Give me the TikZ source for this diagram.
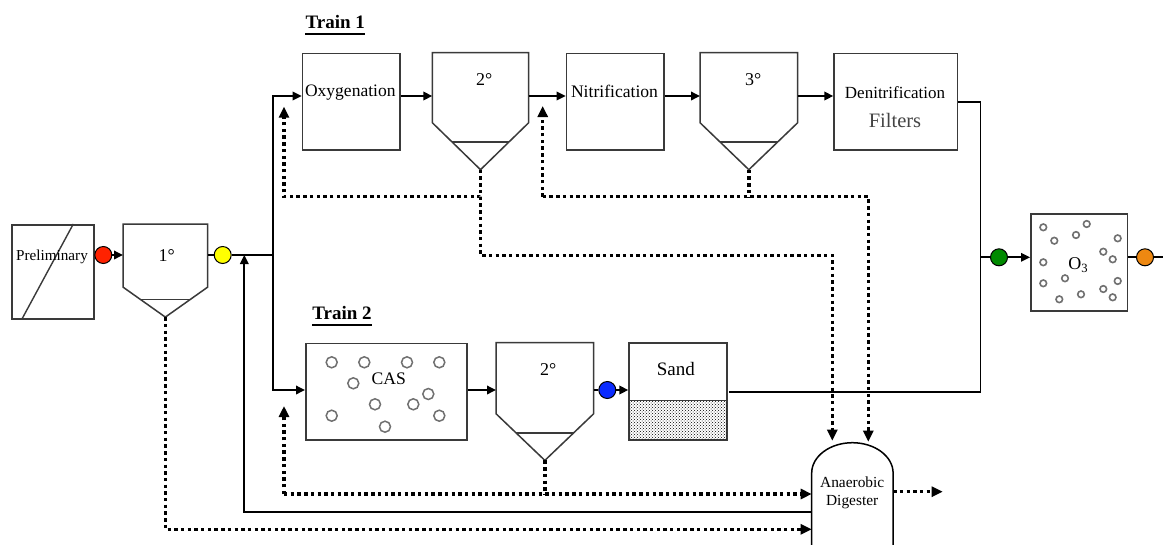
\documentclass[tikz,border=0pt]{standalone}
\usepackage{fontspec}
\setmainfont{Liberation Serif}
\usetikzlibrary{arrows.meta,patterns,calc}
\definecolor{boxgray}{HTML}{3A3A3A}
\definecolor{cgray}{HTML}{707070}
\definecolor{cred}{HTML}{FF2200}
\definecolor{cyel}{HTML}{FFFF00}
\definecolor{cgrn}{HTML}{008A00}
\definecolor{cblu}{HTML}{0A2BFF}
\definecolor{corg}{HTML}{EE8811}
\definecolor{ftgray}{HTML}{444444}
\tikzset{
  unit/.style={draw=boxgray, line width=1.5pt, inner sep=0pt, anchor=north west},
  body/.style={draw=none, inner sep=0pt, anchor=north west},
  vessel/.style={draw=boxgray, line width=1.5pt, line join=miter},
  flow/.style={draw=black, line width=1.8pt},
  arr/.style={-{Triangle[length=9pt,width=8.5pt]}},
  recyc/.style={draw=black, line width=3.4pt, dash pattern=on 3.4pt off 3.3pt},
  darr/.style={-{Triangle[length=11pt,width=10pt]}},
  probe/.style={circle, draw=black, line width=1pt, minimum size=17pt, inner sep=0pt},
  lbl/.style={inner sep=0pt, text=black},
  bub/.style={draw=cgray, line width=1.5pt},
  sbub/.style={draw=cgray, line width=1.6pt},
}
\newcommand\settler[5]{%
  \node[body, minimum width=#3pt, minimum height=#4pt] (#1) at (#2) {};
  \draw[vessel] (#1.south west) -- (#1.north west) -- (#1.north east) -- (#1.south east) -- ($(#1.south)+(0,#5)$) coordinate (#1tip) -- cycle;
  \draw[vessel] ($(#1.south west)!0.41!(#1tip)$) -- ($(#1.south east)!0.41!(#1tip)$);
}
\begin{document}
\begin{tikzpicture}[x=1pt,y=-1pt]
\useasboundingbox (0,0) rectangle (1163,544);
\fill[white] (0,0) rectangle (1163,544);

% train labels
\node[lbl, anchor=base, font=\fontsize{19}{22}\selectfont\bfseries] (t1) at (335.3,28.3) {Train 1};
\draw[line width=1.4pt] ($(t1.base west)+(0,5.5)$) -- ($(t1.base east)+(0,5.5)$);
\node[lbl, anchor=base, font=\fontsize{19}{22}\selectfont\bfseries] (t2) at (342,319.3) {Train 2};
\draw[line width=1.4pt] ($(t2.base west)+(0,5.5)$) -- ($(t2.base east)+(0,5.5)$);

% preliminary
\node[unit, minimum width=82pt, minimum height=94pt] (pre) at (11,224) {};
\draw[boxgray, line width=1.4pt] ($(pre.north west)+(62.3,0)$) -- ($(pre.south west)+(10.7,0)$);
\node[lbl, font=\fontsize{15.2}{17}\selectfont] (prelab) at (52,256.5) {Preliminary};

% primary clarifier
\node[probe, fill=cred] (pr) at (103.3,255) {};
\settler{c1}{123,224}{84.3}{62.7}{30}
\node[lbl, font=\fontsize{18}{20}\selectfont] (c1lab) at (166.7,255.8) {1°};
\node[probe, fill=cyel] (py) at (222.7,255) {};
\draw[flow,arr] (pr) -- (pr -| c1.west);
\draw[flow] (py -| c1.east) -- (py);
\coordinate (jn) at (272.7,255);
\coordinate (jt) at (272.7,96);
\coordinate (jb) at (272.7,390);
\draw[flow] (py) -- (jn);

% train 1
\node[unit, minimum width=97.3pt, minimum height=96.3pt] (oxy) at (301.7,52.7) {};
\node[lbl, font=\fontsize{17.5}{20}\selectfont] (oxylab) at (350.3,93) {Oxygenation};
\settler{c2}{432.3,52.7}{96}{69.6}{47}
\node[lbl, font=\fontsize{18}{20}\selectfont] (c2lab) at (484.3,79.5) {2°};
\node[unit, minimum width=97.6pt, minimum height=96.6pt] (nit) at (565.7,52.7) {};
\node[lbl, font=\fontsize{17.6}{20}\selectfont] (nitlab) at (614.5,91.2) {Nitrification};
\settler{c3}{700,52.7}{97.3}{69.6}{47}
\node[lbl, font=\fontsize{18}{20}\selectfont] (c3lab) at (753.3,79.5) {3°};
\node[unit, minimum width=123.4pt, minimum height=96.6pt] (den) at (833.3,52.7) {};
\node[lbl, font=\fontsize{17}{19}\selectfont] (denlab) at (895,92.5) {Denitrification};
\node[lbl, text=ftgray, font=\fontsize{20.5}{22}\selectfont] (fillab) at (895,120) {Filters};

\draw[flow,arr] (jn) |- (oxy.west |- jt);
\draw[flow,arr] (oxy.east |- jt) -- (c2.west |- jt);
\draw[flow,arr] (c2.east |- jt) -- (nit.west |- jt);
\draw[flow,arr] (nit.east |- jt) -- (c3.west |- jt);
\draw[flow,arr] (c3.east |- jt) -- (den.west |- jt);

% train 2
\node[unit, minimum width=161pt, minimum height=96.3pt] (cas) at (305,342.7) {};
\draw[flow,arr] (jn) |- (cas.west |- jb);
\foreach \bx/\by in {331.7/362.3, 364.3/362.3, 407/362.3, 439.3/362.3, 353.3/383.3, 428.3/394, 375/404.3, 413.3/404.3, 331.7/415.7, 439.3/415.7, 385/426.7}
  \draw[bub] (\bx,\by) circle[radius=5.5];
\node[lbl, font=\fontsize{17.6}{20}\selectfont] (caslab) at (388.8,378.3) {CAS};
\settler{c4}{496,342.7}{97.3}{70.6}{46.7}
\node[lbl, font=\fontsize{18}{20}\selectfont] (c4lab) at (548.3,369.5) {2°};
\node[probe, fill=cblu] (pb) at (607.3,390) {};
\node[unit, minimum width=97.7pt, minimum height=96.3pt] (sand) at (628.3,342.7) {};
\coordinate (sdiv) at (0,400.7);
\fill[pattern=crosshatch dots, pattern color=black] (sand.west |- sdiv) rectangle (sand.south east);
\draw[boxgray, line width=1.5pt] (sand.west |- sdiv) -- (sand.east |- sdiv);
\draw[boxgray, line width=1.5pt] (sand.north west) rectangle (sand.south east);
\node[lbl, font=\fontsize{19}{21}\selectfont] (sandlab) at (675.8,369.2) {Sand};
\draw[flow,arr] (cas.east |- jb) -- (c4.west |- jb);
\draw[flow] (c4.east |- pb) -- (pb);
\draw[flow,arr] (pb) -- (sand.west |- pb);

% effluent side
\coordinate (v1) at (980.5,102.3);
\coordinate (so) at (729,392.3);
\draw[flow] (den.east |- v1) -- (v1) -- (v1 |- so) -- (so);
\node[unit, minimum width=96.7pt, minimum height=96.7pt] (o3) at (1030,213.3) {};
\foreach \bx/\by in {1043.3/227.3, 1086.7/224, 1076/235, 1054.3/240.7, 1117.7/238.3, 1103.3/251.7, 1112.7/259.3, 1043.3/262.3, 1065/278.3, 1117.7/281, 1043.3/283.3, 1103.3/289, 1081/294.3, 1112.7/297.3, 1059.3/299.3}
  \draw[sbub] (\bx,\by) circle[radius=3.3];
\node[lbl, font=\fontsize{18}{20}\selectfont] (o3lab) at (1078.3,265.3) {O\textsubscript{3}};
\node[probe, fill=cgrn] (pg) at (999,257.3) {};
\node[probe, fill=corg] (po) at (1145,257.3) {};
\coordinate (edge) at (1163,257.3);
\draw[flow] (v1 |- pg) -- (pg);
\draw[flow,arr] (pg) -- (o3.west |- pg);
\draw[flow] (o3.east |- po) -- (po);
\draw[flow] (po) -- (edge);

% digester
\node[body, minimum width=81pt, minimum height=73pt] (dig) at (811.7,473) {};
\draw[draw=black, line width=1.5pt] (dig.south west) -- (dig.north west)
  .. controls +(0,-16.7) and +(-22.4,0) .. ($(dig.north)+(0,-30.3)$) coordinate (dtop)
  .. controls +(22.4,0) and +(0,-16.7) .. (dig.north east) -- (dig.south east);
\node[lbl, align=center, font=\fontsize{15.4}{17.5}\selectfont] (diglab) at (852.2,493) {Anaerobic\\Digester};

% recycle and sludge lines
\coordinate (r1) at (0,529.3);
\draw[recyc,darr] (c1tip) -- (c1tip |- r1) -- (dig.west |- r1);
\coordinate (r2) at (244.3,511.7);
\draw[flow,arr] (dig.west |- r2) -- (r2) -- (r2 |- jn);
\coordinate (r3) at (284,494);
\coordinate (casret) at (284,406);
\draw[recyc,darr] (r3) -- (casret);
\draw[recyc,darr] (r3) -- (dig.west |- r3);
\draw[recyc] (c4tip) -- (c4tip |- r3);
\coordinate (r4) at (284,196.7);
\coordinate (oxyret) at (284,106.7);
\draw[recyc,darr] (c2tip) -- (c2tip |- r4) -- (r4) -- (oxyret);
\coordinate (r5) at (0,255.3);
\coordinate (dinA) at (832.3,440.7);
\draw[recyc,darr] (c2tip |- r4) -- (c2tip |- r5) -- (dinA |- r5) -- (dinA);
\coordinate (r6) at (542.7,196.7);
\coordinate (nitret) at (542.7,106);
\coordinate (dinB) at (868.3,441.7);
\draw[recyc] (c3tip) -- (c3tip |- r6);
\draw[recyc,darr] (r6) -- (nitret);
\draw[recyc,darr] (r6) -- (dinB |- r6) -- (dinB);
\coordinate (dout) at (942.7,491.7);
\draw[recyc,darr] (dig.east |- dout) -- (dout);
\end{tikzpicture}
\end{document}
